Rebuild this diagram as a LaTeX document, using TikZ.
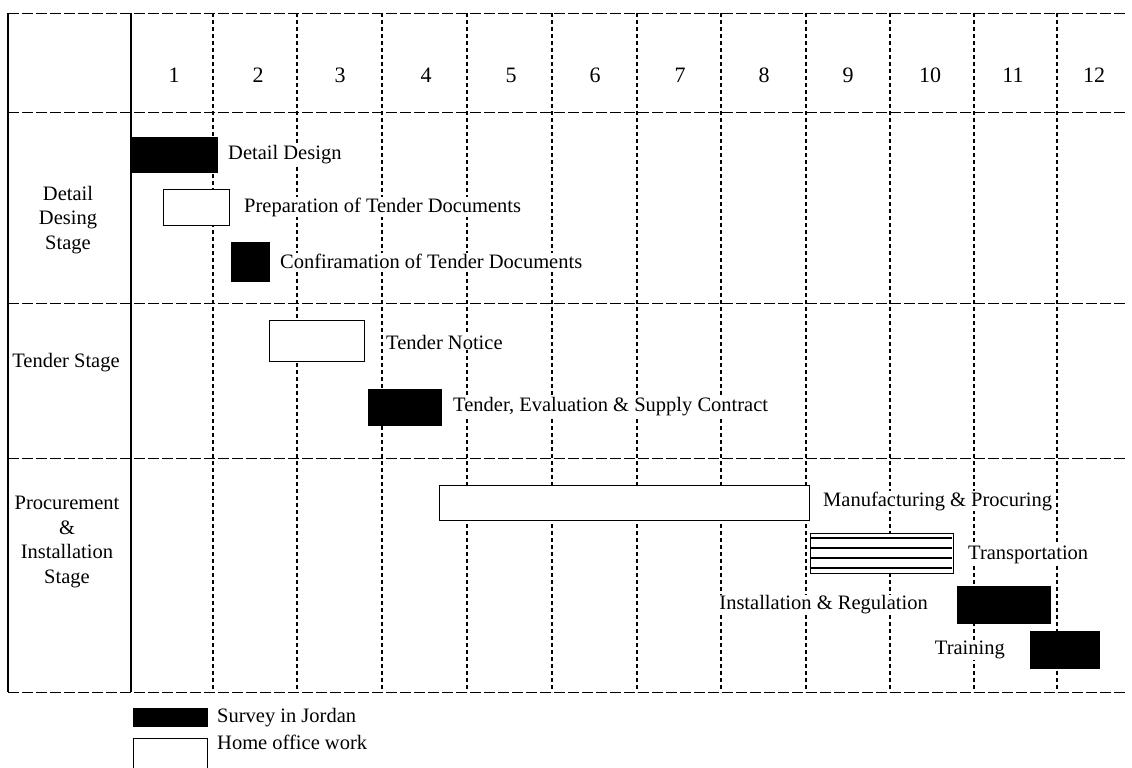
\documentclass[tikz,border=0pt]{standalone}
\usepackage{fontspec}
\setmainfont{Liberation Serif}
\begin{document}
\begin{tikzpicture}[x=1pt,y=-1pt,
  hline/.style={line width=0.9pt, dash pattern=on 11pt off 3pt},
  vline/.style={line width=1.6pt, dash pattern=on 4pt off 3pt},
  frame/.style={line width=2pt},
  survey/.style={draw=black, fill=black, inner sep=0pt, anchor=north west},
  home/.style={draw=black, fill=white, line width=1.3pt, inner sep=0pt, anchor=north west},
  lbl/.style={font=\fontsize{20.5}{22}\selectfont, fill=white, inner sep=1pt, anchor=west},
  hdr/.style={font=\fontsize{22}{24}\selectfont, inner sep=1pt},
  stage/.style={font=\fontsize{20.5}{24.5}\selectfont, align=center, fill=white, inner sep=1pt}
]
\useasboundingbox (0,0) rectangle (1132,768);

% column dividers
\foreach \x in {213,297,382,467,552,637,721,806,890,974,1057}
  \draw[vline] (\x,13) -- (\x,692);

% horizontal rules
\foreach \y in {13,112,303,458,692}
  \draw[hline] (8,\y) -- (1126,\y);

% solid verticals
\draw[frame] (8,13) -- (8,692);
\draw[frame] (131,13) -- (131,692);

% header numbers
\node[hdr] (h1)  at (174,75)  {1};
\node[hdr] (h2)  at (258,75)  {2};
\node[hdr] (h3)  at (340,75)  {3};
\node[hdr] (h4)  at (426,75)  {4};
\node[hdr] (h5)  at (511,75)  {5};
\node[hdr] (h6)  at (595,75)  {6};
\node[hdr] (h7)  at (680,75)  {7};
\node[hdr] (h8)  at (764,75)  {8};
\node[hdr] (h9)  at (848,75)  {9};
\node[hdr] (h10) at (930,75)  {10};
\node[hdr] (h11) at (1013,75) {11};
\node[hdr] (h12) at (1094,75) {12};

% stage labels
\node[stage] (s1) at (68,220) {Detail\\Desing\\Stage};
\node[stage] (s2) at (66,363) {Tender Stage};
\node[stage] (s3) at (67,542) {Procurement\\\&\\Installation\\Stage};

% activities
\node[survey, minimum width=85, minimum height=35] (dd) at (132,137) {};
\node[lbl] (ddt) at (227,155) {Detail Design};

\node[home, minimum width=66, minimum height=36] (prep) at (163,189) {};
\node[lbl] (prept) at (243,207) {Preparation of Tender Documents};

\node[survey, minimum width=38, minimum height=39] (conf) at (231,242) {};
\node[lbl] (conft) at (279,261) {Confiramation of Tender Documents};

\node[home, minimum width=95, minimum height=41] (tn) at (269,320) {};
\node[lbl] (tnt) at (385,342) {Tender Notice};

\node[survey, minimum width=73, minimum height=36] (te) at (368,389) {};
\node[lbl] (tet) at (452,407) {Tender, Evaluation \& Supply Contract};

\node[home, minimum width=370, minimum height=35] (mp) at (439,485) {};
\node[lbl] (mpt) at (822,501) {Manufacturing \& Procuring};

\node[home, minimum width=143, minimum height=40] (tr) at (810,533) {};
\foreach \yy in {538,548,558,568}
  \draw[line width=1.1pt] (811,\yy) -- (952,\yy);
\node[lbl] (trt) at (967,555) {Transportation};

\node[survey, minimum width=93, minimum height=37] (ir) at (957,586) {};
\node[lbl, anchor=east] (irt) at (929,605) {Installation \& Regulation};

\node[survey, minimum width=69, minimum height=37] (trn) at (1030,631) {};
\node[lbl, anchor=east] (trnt) at (1006,650) {Training};

% legend
\node[survey, minimum width=74, minimum height=18] (legs) at (133,708) {};
\node[lbl] (legst) at (216,718) {Survey in Jordan};
\node[home, minimum width=74, minimum height=36] (legh) at (133,738) {};
\node[lbl] (leght) at (216,742) {Home office work};
\end{tikzpicture}
\end{document}
